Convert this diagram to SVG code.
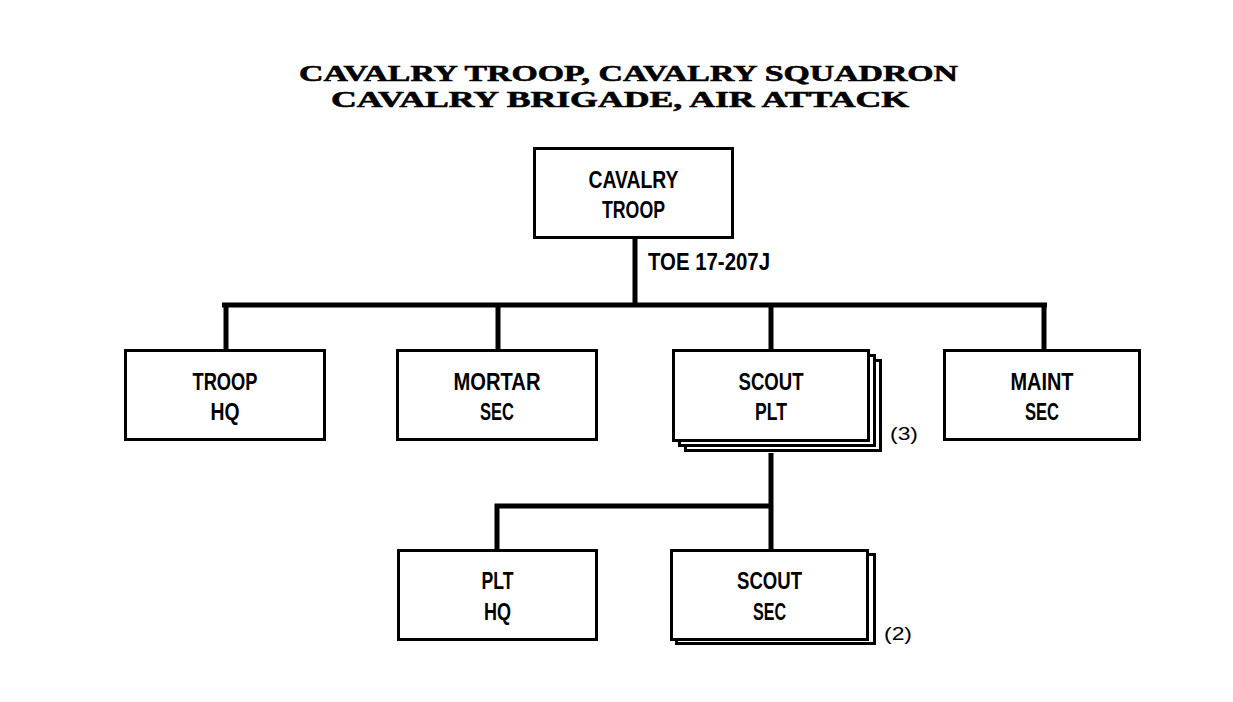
<svg xmlns="http://www.w3.org/2000/svg" width="1233" height="702" viewBox="0 0 1233 702">
<style>
.title{font-family:"Liberation Serif","Times New Roman",serif;font-weight:bold;font-size:23.5px;fill:#000;stroke:#000;stroke-width:0.6}
.lbl{font-family:"Liberation Sans",Arial,sans-serif;font-weight:bold;font-size:24px;fill:#000;text-anchor:middle}
.note{font-family:"Liberation Sans",Arial,sans-serif;font-weight:bold;font-size:24px;fill:#000}
.cnt{font-family:"Liberation Sans",Arial,sans-serif;font-size:18px;fill:#000}
.box{fill:#fff;stroke:#000;stroke-width:3}
.conn{stroke:#000;stroke-width:5;fill:none}
</style>
<rect width="1233" height="702" fill="#fff"/>
<text class="title" x="299" y="80.5" textLength="659" lengthAdjust="spacingAndGlyphs">CAVALRY TROOP, CAVALRY SQUADRON</text>
<text class="title" x="331" y="107" textLength="578" lengthAdjust="spacingAndGlyphs">CAVALRY BRIGADE, AIR ATTACK</text>
<g id="connectors">
<line class="conn" x1="635" y1="239" x2="635" y2="305"/>
<line class="conn" x1="222" y1="305" x2="1047" y2="305" stroke-width="6"/>
<line class="conn" x1="226" y1="305" x2="226" y2="350"/>
<line class="conn" x1="498" y1="305" x2="498" y2="350"/>
<line class="conn" x1="771" y1="305" x2="771" y2="350"/>
<line class="conn" x1="1044" y1="305" x2="1044" y2="350"/>
<line class="conn" x1="771" y1="453" x2="771" y2="550"/>
<polyline class="conn" points="497,550 497,506 773,506"/>
<text class="note" x="648" y="270" textLength="122" lengthAdjust="spacingAndGlyphs">TOE 17-207J</text>
</g>
<g id="cavalry-troop">
<rect class="box" x="534.5" y="148.5" width="198" height="89"/>
<text class="lbl" x="633.5" y="188" textLength="90" lengthAdjust="spacingAndGlyphs">CAVALRY</text>
<text class="lbl" x="633.5" y="218" textLength="63" lengthAdjust="spacingAndGlyphs">TROOP</text>
</g>
<g id="troop-hq">
<rect class="box" x="125.5" y="350.5" width="199" height="89"/>
<text class="lbl" x="225" y="390" textLength="65" lengthAdjust="spacingAndGlyphs">TROOP</text>
<text class="lbl" x="225" y="420" textLength="29" lengthAdjust="spacingAndGlyphs">HQ</text>
</g>
<g id="mortar-sec">
<rect class="box" x="397.5" y="350.5" width="199" height="89"/>
<text class="lbl" x="497" y="390" textLength="87" lengthAdjust="spacingAndGlyphs">MORTAR</text>
<text class="lbl" x="497" y="420" textLength="34" lengthAdjust="spacingAndGlyphs">SEC</text>
</g>
<g id="scout-plt">
<rect class="box" x="685.5" y="360.5" width="195" height="90"/>
<rect class="box" x="679.5" y="355.5" width="195" height="90"/>
<rect class="box" x="673.5" y="350.5" width="195" height="90"/>
<text class="lbl" x="771" y="390" textLength="65" lengthAdjust="spacingAndGlyphs">SCOUT</text>
<text class="lbl" x="771" y="420" textLength="32" lengthAdjust="spacingAndGlyphs">PLT</text>
<text class="cnt" x="890" y="440" textLength="28" lengthAdjust="spacingAndGlyphs">(3)</text>
</g>
<g id="maint-sec">
<rect class="box" x="944.5" y="350.5" width="195" height="89"/>
<text class="lbl" x="1042" y="390" textLength="63" lengthAdjust="spacingAndGlyphs">MAINT</text>
<text class="lbl" x="1042" y="420" textLength="34" lengthAdjust="spacingAndGlyphs">SEC</text>
</g>
<g id="plt-hq">
<rect class="box" x="398.5" y="550.5" width="198" height="89"/>
<text class="lbl" x="497.5" y="589" textLength="32" lengthAdjust="spacingAndGlyphs">PLT</text>
<text class="lbl" x="497.5" y="620" textLength="27" lengthAdjust="spacingAndGlyphs">HQ</text>
</g>
<g id="scout-sec">
<rect class="box" x="676.5" y="554.5" width="198" height="89"/>
<rect class="box" x="671.5" y="550.5" width="196" height="89"/>
<text class="lbl" x="769.5" y="589" textLength="65" lengthAdjust="spacingAndGlyphs">SCOUT</text>
<text class="lbl" x="769.5" y="620" textLength="33" lengthAdjust="spacingAndGlyphs">SEC</text>
<text class="cnt" x="884" y="640" textLength="28" lengthAdjust="spacingAndGlyphs">(2)</text>
</g>
</svg>
